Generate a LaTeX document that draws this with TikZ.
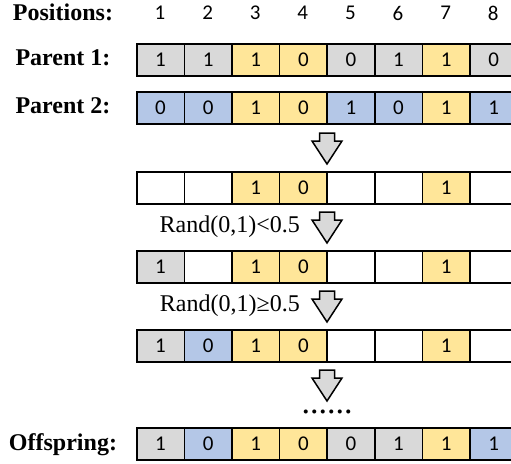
\documentclass[tikz,border=0pt]{standalone}
\usepackage{fontspec}
\setmainfont{Liberation Serif}
\newfontfamily\cellfont{Carlito}
\definecolor{cg}{HTML}{D9D9D9}
\definecolor{cy}{HTML}{FFE699}
\definecolor{cb}{HTML}{B4C7E7}
\definecolor{cw}{HTML}{FFFFFF}
\newcommand\cellrow[3]{%
  \foreach[count=\i] \c/\v in {#3} {%
    \node[cell, fill=c\c] (#1c\i) at ({136+47.6*(\i-1)},#2) {\v};}}
\newcommand\grayarrow[2]{%
  \draw[darrow] (319.5,#2) -- (334.5,#2) -- (334.5,#2+8) -- (342,#2+8)
    -- (327,#2+31) coordinate (#1) -- (312,#2+8) -- (319.5,#2+8) -- cycle;}
\begin{document}
\begin{tikzpicture}[x=1pt,y=-1pt,
  cell/.style={draw=black, line width=1.5pt, minimum width=47.6pt, minimum height=32pt,
    inner sep=0pt, anchor=north west, font=\cellfont\fontsize{21}{24}\selectfont},
  posnum/.style={font=\cellfont\fontsize{21}{24}\selectfont, inner sep=0pt},
  lab/.style={font=\bfseries\fontsize{24}{28}\selectfont, anchor=base, inner sep=0pt},
  rnd/.style={font=\fontsize{24}{28}\selectfont, anchor=base east, inner sep=0pt},
  darrow/.style={draw=black, line width=1.5pt, fill=cg, line join=miter}]
\useasboundingbox (0,0) rectangle (511,463);
\clip (0,0) rectangle (511,463);
% labels
\node[lab] (lpos) at (63,20) {Positions:};
\node[lab] (lp1) at (63,65) {Parent 1:};
\node[lab] (lp2) at (63,113) {Parent 2:};
\node[lab] (loff) at (63,450) {Offspring:};
% position numbers
\foreach \i in {1,...,8} {\node[posnum] (pos\i) at ({160+47.6*(\i-1)},13) {\i};}
% rows
\cellrow{pa}{43}{g/1,g/1,y/1,y/0,g/0,g/1,y/1,g/0}
\cellrow{pb}{91}{b/0,b/0,y/1,y/0,b/1,b/0,y/1,b/1}
\cellrow{ra}{171}{w/{},w/{},y/1,y/0,w/{},w/{},y/1,w/{}}
\cellrow{rb}{250}{g/1,w/{},y/1,y/0,w/{},w/{},y/1,w/{}}
\cellrow{rc}{329}{g/1,b/0,y/1,y/0,w/{},w/{},y/1,w/{}}
\cellrow{off}{427}{g/1,b/0,y/1,y/0,g/0,g/1,y/1,b/1}
% arrows
\grayarrow{a1}{133}
\grayarrow{a2}{212}
\grayarrow{a3}{291}
\grayarrow{a4}{370}
% texts
\node[rnd] (t1) at (300,232) {Rand(0,1)<0.5};
\node[rnd] (t2) at (300,311) {Rand(0,1)≥0.5};
\node[font=\fontsize{34}{36}\selectfont, inner sep=0pt] (dots) at (327,412) {......};
\end{tikzpicture}
\end{document}
